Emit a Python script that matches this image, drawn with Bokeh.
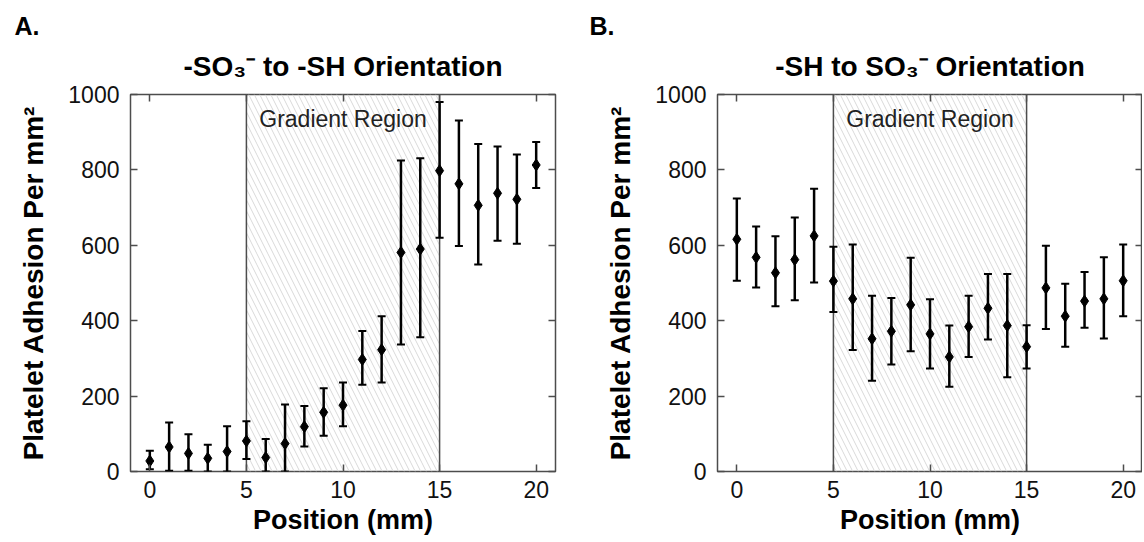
from bokeh.plotting import figure
from bokeh.models import (ColumnDataSource, Whisker, TeeHead, BoxAnnotation, Span, Label,
                          Title, LinearAxis, FixedTicker, Range1d)
from bokeh.layouts import row
from bokeh.embed import file_html
from bokeh.resources import INLINE

# ---------------- data ----------------
positions = list(range(21))  # Position (mm)

a_mean = [28, 65, 48, 35, 53, 81, 37, 74, 119, 157, 176, 297, 323, 581, 590, 798, 763, 706, 738, 722, 813]
a_upper = [55, 130, 99, 71, 120, 133, 86, 178, 174, 221, 236, 373, 412, 825, 831, 980, 931, 869, 862, 841, 874]
a_lower = [6, 2, 2, 0, 0, 33, 0, 0, 66, 95, 120, 230, 236, 337, 356, 620, 598, 549, 612, 604, 752]

b_mean = [616, 568, 527, 562, 625, 505, 458, 352, 372, 442, 365, 304, 384, 433, 387, 331, 487, 412, 452, 458, 506]
b_upper = [724, 650, 624, 674, 750, 596, 602, 466, 460, 567, 457, 387, 466, 524, 524, 388, 599, 498, 529, 568, 602]
b_lower = [506, 488, 438, 454, 501, 423, 322, 241, 284, 319, 273, 225, 304, 350, 250, 273, 378, 331, 381, 353, 412]

gradient_region = [5, 15]
x_ticks = [0, 5, 10, 15, 20]
y_ticks = [0, 200, 400, 600, 800, 1000]

FONT = "Liberation Sans"
FRAME = "#4d4d4d"


def style_axis(ax):
    ax.axis_line_color = None
    ax.major_tick_in = 7
    ax.major_tick_out = 0
    ax.minor_tick_line_color = None
    ax.major_tick_line_color = FRAME
    ax.major_tick_line_width = 1.5
    ax.major_label_text_font = FONT
    ax.major_label_text_color = "#111111"
    ax.axis_label_text_font = FONT
    ax.axis_label_text_font_style = "bold"
    ax.axis_label_text_color = "#000000"


def make_panel(letter, title_text, mean, upper, lower, width, border_left, border_right):
    p = figure(width=width, height=540, x_range=Range1d(-1, 21), y_range=Range1d(0, 1000),
               output_backend="svg", toolbar_location=None,
               min_border_left=border_left, min_border_right=border_right,
               min_border_top=94, min_border_bottom=69, title=letter)
    p.title.text_font = FONT
    p.title.text_font_size = "25px"
    p.title.text_font_style = "bold"
    p.title.align = "left"
    p.title.offset = 14 - border_left
    p.title.standoff = -8
    p.title.text_color = "#000000"

    p.xgrid.visible = False
    p.ygrid.visible = False
    p.outline_line_color = FRAME
    p.outline_line_width = 1.5
    p.background_fill_color = "white"
    p.border_fill_color = "white"

    bottom = p.below[0]
    left = p.left[0]
    bottom.ticker = FixedTicker(ticks=x_ticks)
    left.ticker = FixedTicker(ticks=y_ticks)
    style_axis(bottom)
    style_axis(left)

    bottom.major_label_text_font_size = "23px"
    bottom.major_label_standoff = 9
    bottom.axis_label = "Position (mm)"
    bottom.axis_label_text_font_size = "27px"
    bottom.axis_label_standoff = 4

    left.major_label_text_font_size = "23px"
    left.major_label_standoff = 11
    left.axis_label = "Platelet Adhesion Per mm\u00b2"
    left.axis_label_text_font_size = "28px"
    left.axis_label_standoff = 16

    # extra tick-only axes for the boxed look
    right = LinearAxis(ticker=FixedTicker(ticks=y_ticks))
    top = LinearAxis(ticker=FixedTicker(ticks=x_ticks))
    style_axis(right)
    style_axis(top)
    right.major_label_text_font_size = "1px"
    right.major_label_text_color = None
    right.major_label_standoff = 0
    top.major_label_text_font_size = "1px"
    top.major_label_text_color = None
    top.major_label_standoff = 0
    p.add_layout(right, "right")
    p.add_layout(top, "above")

    main_title = Title(text=title_text, align="center", text_font=FONT, text_font_size="28px",
                       text_font_style="bold", text_color="#000000", standoff=26)
    p.add_layout(main_title, "above")

    # gradient region
    box = BoxAnnotation(left=gradient_region[0], right=gradient_region[1],
                        fill_alpha=0, line_color=None, level="underlay",
                        hatch_pattern="\\", hatch_color="#d9d9d9", hatch_scale=11,
                        hatch_weight=1)
    p.add_layout(box)
    for loc in gradient_region:
        p.add_layout(Span(location=loc, dimension="height", line_color=FRAME, line_width=1.5,
                          level="underlay"))
    p.add_layout(Label(x=sum(gradient_region) / 2, y=970, text="Gradient Region",
                       text_align="center", text_baseline="top", text_font=FONT,
                       text_font_size="23px", text_color="#222222"))

    src = ColumnDataSource(dict(x=positions, mean=mean, upper=upper, lower=lower))
    p.add_layout(Whisker(source=src, base="x", upper="upper", lower="lower",
                         line_color="black", line_width=2.5,
                         upper_head=TeeHead(size=8, line_width=2, line_color="black"),
                         lower_head=TeeHead(size=8, line_width=2, line_color="black")))
    p.scatter("x", "mean", source=src, marker="diamond", size=12,
              fill_color="black", line_color="black")
    return p


pA = make_panel("A.", "-SO\u2083\u207b to -SH Orientation", a_mean, a_upper, a_lower,
                width=575, border_left=130, border_right=20)
pB = make_panel("B.", "-SH to SO\u2083\u207b Orientation", b_mean, b_upper, b_lower,
                width=567, border_left=142, border_right=0)

layout = row(pA, pB)
open("out.html", "w").write(file_html(layout, INLINE))
